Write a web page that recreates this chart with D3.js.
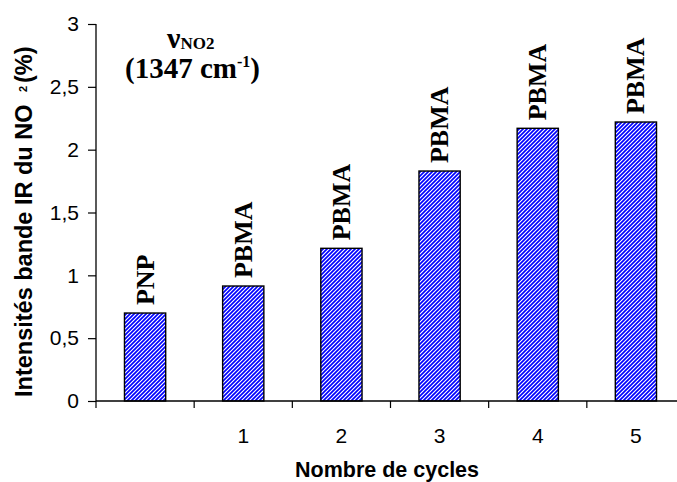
<!DOCTYPE html>
<html>
<head>
<meta charset="utf-8">
<script src="https://cdn.jsdelivr.net/npm/d3@7"></script>
<style>
  html, body { margin: 0; padding: 0; background: #fff; }
  svg { display: block; }
</style>
</head>
<body>
<svg id="chart" width="677" height="482"></svg>
<script>
// ---- data ----
const categories = ["", "1", "2", "3", "4", "5"];
const values = [0.70, 0.915, 1.215, 1.83, 2.17, 2.22];
const barLabels = ["PNP", "PBMA", "PBMA", "PBMA", "PBMA", "PBMA"];
const yTicks = [0, 0.5, 1, 1.5, 2, 2.5, 3];
const yTickLabels = ["0", "0,5", "1", "1,5", "2", "2,5", "3"];

(function () {
// ---- layout ----
const svg = d3.select("#chart");
const mLeft = 96, mRight = 685, mTop = 24, mBottom = 401;

const x = d3.scaleBand()
  .domain(d3.range(categories.length))
  .range([mLeft, mRight])
  .paddingInner(0.58)
  .paddingOuter(0.29);
const y = d3.scaleLinear().domain([0, 3]).range([mBottom, mTop]);

// pattern
const defs = svg.append("defs");
const pat = defs.append("pattern")
  .attr("id", "hatch")
  .attr("patternUnits", "userSpaceOnUse")
  .attr("width", 4).attr("height", 4);
pat.append("rect").attr("width", 4).attr("height", 4).attr("fill", "#fff");
pat.append("path")
  .attr("d", "M-1,1 L1,-1 M0,4 L4,0 M3,5 L5,3")
  .attr("stroke", "#0000ff")
  .attr("stroke-width", 1.7);

// bars
svg.append("g").selectAll("rect")
  .data(values)
  .join("rect")
  .attr("x", (d, i) => x(i))
  .attr("y", d => y(d))
  .attr("width", x.bandwidth())
  .attr("height", d => y(0) - y(d))
  .attr("fill", "url(#hatch)")
  .attr("stroke", "#000")
  .attr("stroke-width", 1.4);

// bar labels (rotated)
svg.append("g").selectAll("text")
  .data(values)
  .join("text")
  .attr("transform", (d, i) => `translate(${x(i) + x.bandwidth() / 2 + 8.5},${y(d) - 8}) rotate(-90)`)
  .attr("font-family", "'Liberation Serif', 'Times New Roman', serif")
  .attr("font-weight", "bold")
  .attr("font-size", 26)
  .attr("fill", "#000")
  .text((d, i) => barLabels[i]);

// y axis
const yAxis = d3.axisLeft(y)
  .tickValues(yTicks)
  .tickFormat((d, i) => yTickLabels[i])
  .tickSize(8)
  .tickPadding(9);
const gy = svg.append("g").attr("transform", `translate(${mLeft},0)`).call(yAxis);
gy.select(".domain").attr("d", `M0,${mTop}V${mBottom}`).attr("stroke", "#000").attr("stroke-width", 1.3);
gy.selectAll(".tick line").attr("stroke", "#000").attr("stroke-width", 1.2);
gy.selectAll(".tick text")
  .attr("font-family", "'Liberation Sans', Arial, sans-serif")
  .attr("font-size", 21)
  .attr("fill", "#000");

// x axis: line, ticks between bands, labels at band centers
const step = x.step();
const gx = svg.append("g");
gx.append("line")
  .attr("x1", mLeft).attr("x2", mRight)
  .attr("y1", mBottom).attr("y2", mBottom)
  .attr("stroke", "#000").attr("stroke-width", 1.3);
const tickPos = d3.range(categories.length + 1).map(k => mLeft + k * step);
gx.selectAll("line.t")
  .data(tickPos)
  .join("line")
  .attr("class", "t")
  .attr("x1", d => d).attr("x2", d => d)
  .attr("y1", mBottom).attr("y2", mBottom + 7)
  .attr("stroke", "#000").attr("stroke-width", 1.2);
gx.selectAll("text")
  .data(categories)
  .join("text")
  .attr("x", (d, i) => x(i) + x.bandwidth() / 2)
  .attr("y", 443)
  .attr("text-anchor", "middle")
  .attr("font-family", "'Liberation Sans', Arial, sans-serif")
  .attr("font-size", 21)
  .attr("fill", "#000")
  .text(d => d);

// x axis title
svg.append("text")
  .attr("x", 387).attr("y", 477)
  .attr("text-anchor", "middle")
  .attr("font-family", "'Liberation Sans', Arial, sans-serif")
  .attr("font-weight", "bold")
  .attr("font-size", 21.5)
  .attr("fill", "#000")
  .text("Nombre de cycles");

// y axis title
const yt = svg.append("text")
  .attr("transform", "translate(32,397) rotate(-90)")
  .attr("font-family", "'Liberation Sans', Arial, sans-serif")
  .attr("font-weight", "bold")
  .attr("fill", "#000");
yt.append("tspan").attr("x", 0).attr("y", 0).attr("font-size", 23.5).text("Intensités bande IR du NO");
yt.append("tspan").attr("x", 305).attr("y", -5).attr("font-size", 11).text("2");
yt.append("tspan").attr("x", 314).attr("y", 0).attr("font-size", 23.5).text("(%)");

// title annotation
const serif = "'Liberation Serif', 'Times New Roman', serif";
const t1 = svg.append("text")
  .attr("x", 167).attr("y", 48)
  .attr("font-family", serif).attr("font-weight", "bold").attr("fill", "#000");
t1.append("tspan").attr("font-size", 30).text("ν");
t1.append("tspan").attr("font-size", 17).attr("dy", 1).text("NO2");

const t2 = svg.append("text")
  .attr("x", 125).attr("y", 78)
  .attr("font-family", serif).attr("font-weight", "bold").attr("fill", "#000");
t2.append("tspan").attr("font-size", 29).text("(1347 cm");
t2.append("tspan").attr("font-size", 16).attr("dy", -11).text("-1");
t2.append("tspan").attr("font-size", 29).attr("dy", 11).text(")");
})();
</script>
</body>
</html>
